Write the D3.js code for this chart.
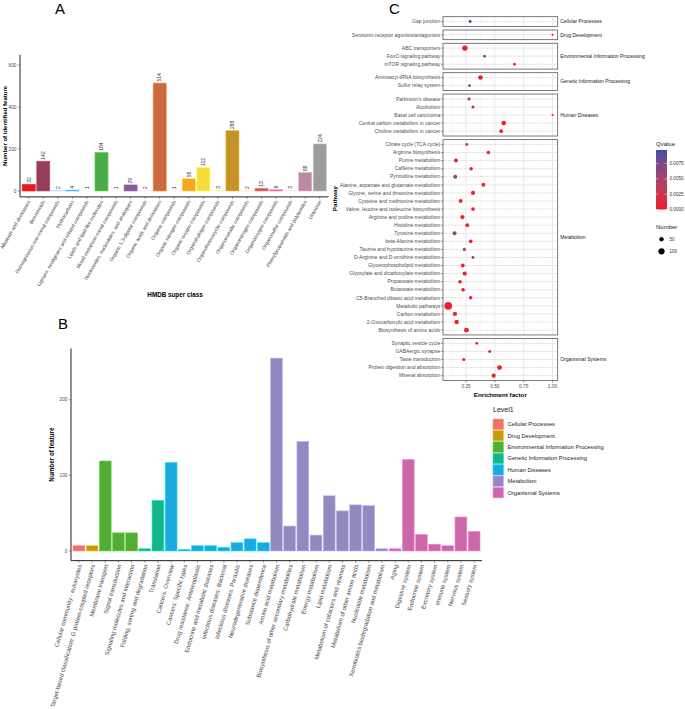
<!DOCTYPE html>
<html>
<head>
<meta charset="utf-8">
<script src="https://cdn.jsdelivr.net/npm/d3@7"></script>
<style>
  body { margin: 0; background: #fff; }
  text { font-family: "Liberation Sans", Arial, sans-serif; }
</style>
</head>
<body>
<svg id="fig" width="685" height="709"></svg>
<script>
// ---------- Panel A data: HMDB super class ----------
var hmdbClasses = ["Alkaloids and derivatives", "Benzenoids", "Homogeneous non-metal compounds",
  "Hydrocarbons", "Lignans, neolignans and related compounds", "Lipids and lipid-like molecules",
  "Mixed metal/non-metal compounds", "Nucleosides, nucleotides, and analogues",
  "Organic 1,3-dipolar compounds", "Organic acids and derivatives", "Organic compounds",
  "Organic nitrogen compounds", "Organic oxygen compounds", "Organohalogen compounds",
  "Organoheterocyclic compounds", "Organometallic compounds", "Organonitrogen compounds",
  "Organooxygen compounds", "Organosulfur compounds", "Phenylpropanoids and polyketides", "Unknown"];
var hmdbCounts = [32, 142, 2, 4, 1, 184, 1, 29, 2, 514, 1, 58, 112, 3, 288, 2, 13, 6, 3, 88, 224];
var hmdbTicks = [0, 200, 400, 600];

// ---------- Panel B data: KEGG level 2 ----------
var level1Names = ["Cellular Processes", "Drug Development", "Environmental Information Processing",
  "Genetic Information Processing", "Human Diseases", "Metabolism", "Organismal Systems"];
var level2Names = ["Cellular community - eukaryotes",
  "Target-based classification: G protein-coupled receptors", "Membrane transport",
  "Signal transduction", "Signaling molecules and interaction", "Folding, sorting and degradation",
  "Translation", "Cancers: Overview", "Cancers: Specific types", "Drug resistance: Antineoplastic",
  "Endocrine and metabolic diseases", "Infectious diseases: Bacterial", "Infectious diseases: Parasitic",
  "Neurodegenerative diseases", "Substance dependence", "Amino acid metabolism",
  "Biosynthesis of other secondary metabolites", "Carbohydrate metabolism", "Energy metabolism",
  "Lipid metabolism", "Metabolism of cofactors and vitamins", "Metabolism of other amino acids",
  "Nucleotide metabolism", "Xenobiotics biodegradation and metabolism", "Aging", "Digestive system",
  "Endocrine system", "Excretory system", "Immune system", "Nervous system", "Sensory system"];
var level2Group = [0, 1, 2, 2, 2, 3, 3, 4, 4, 4, 4, 4, 4, 4, 4, 5, 5, 5, 5, 5, 5, 5, 5, 5, 6, 6, 6, 6, 6, 6, 6];
var level2Counts = [7, 7, 119, 24, 24, 3, 67, 117, 2, 7, 7, 5, 11, 16, 11, 255, 33, 145, 21, 73, 53, 61, 60,
  3, 3, 121, 22, 9, 7, 45, 26];
var level2Ticks = [0, 100, 200];

// ---------- Panel C data: KEGG enrichment ----------
var enrichPathways = ["Gap junction", "Serotonin receptor agonists/antagonists",
  "ABC transporters", "FoxO signaling pathway", "mTOR signaling pathway",
  "Aminoacyl-tRNA biosynthesis", "Sulfur relay system",
  "Parkinson's disease", "Alcoholism", "Basal cell carcinoma", "Central carbon metabolism in cancer",
  "Choline metabolism in cancer",
  "Citrate cycle (TCA cycle)", "Arginine biosynthesis", "Purine metabolism", "Caffeine metabolism",
  "Pyrimidine metabolism", "Alanine, aspartate and glutamate metabolism",
  "Glycine, serine and threonine metabolism", "Cysteine and methionine metabolism",
  "Valine, leucine and isoleucine biosynthesis", "Arginine and proline metabolism", "Histidine metabolism",
  "Tyrosine metabolism", "beta-Alanine metabolism", "Taurine and hypotaurine metabolism",
  "D-Arginine and D-ornithine metabolism", "Glycerophospholipid metabolism",
  "Glyoxylate and dicarboxylate metabolism", "Propanoate metabolism", "Butanoate metabolism",
  "C5-Branched dibasic acid metabolism", "Metabolic pathways", "Carbon metabolism",
  "2-Oxocarboxylic acid metabolism", "Biosynthesis of amino acids",
  "Synaptic vesicle cycle", "GABAergic synapse", "Taste transduction", "Protein digestion and absorption",
  "Mineral absorption"];
var enrichGroup = [0, 1, 2, 2, 2, 3, 3, 4, 4, 4, 4, 4,
  5, 5, 5, 5, 5, 5, 5, 5, 5, 5, 5, 5, 5, 5, 5, 5, 5, 5, 5, 5, 5, 5, 5, 5,
  6, 6, 6, 6, 6];
var enrichFactor = [0.285, 1.0, 0.24, 0.41, 0.67, 0.375, 0.28, 0.276, 0.31, 1.0, 0.577, 0.555,
  0.256, 0.443, 0.162, 0.294, 0.156, 0.40, 0.31, 0.203, 0.31, 0.218, 0.26, 0.15, 0.29, 0.235, 0.31,
  0.221, 0.238, 0.197, 0.224, 0.29, 0.095, 0.153, 0.168, 0.253,
  0.343, 0.455, 0.23, 0.54, 0.49];
var enrichQ = [0.0097, 0.0001, 0.0001, 0.0066, 0.0004, 0.0002, 0.0092, 0.0050, 0.0064, 0.0002, 0.0001,
  0.0003, 0.0040, 0.0003, 0.0016, 0.0004, 0.0066, 0.0003, 0.0004, 0.0005, 0.0004, 0.0005, 0.0006,
  0.0068, 0.0006, 0.0052, 0.0066, 0.0004, 0.0005, 0.0004, 0.0005, 0.0006, 0.0001, 0.0003, 0.0004,
  0.0002, 0.0006, 0.0006, 0.0007, 0.0001, 0.0002];
var enrichNumber = [22, 6, 76, 22, 20, 55, 20, 28, 25, 6, 55, 35,
  22, 32, 42, 32, 40, 40, 45, 40, 35, 45, 38, 40, 35, 25, 22, 38, 45, 33, 35, 32, 150, 48, 50, 62,
  20, 22, 25, 60, 45];
var enrichTicks = [0.25, 0.5, 0.75, 1.0];
var qLegendTicks = [0, 0.0025, 0.005, 0.0075];
var sizeLegendValues = [50, 100];

// ---------- styles ----------
var hmdbPalette = ["#E41A1C", "#973C5A", "#9AA6D8", "#3A8FC2", "#D5EEDC", "#4DAA48", "#D3EEE0", "#7F5A98",
  "#F0B5D0", "#CD6A3E", "#FBE0C8", "#F5A623", "#F4DD3A", "#F0E07A", "#C4932C", "#F4BBA0", "#C45E5A",
  "#E9609C", "#F2B6D4", "#B98AA2", "#9C9C9C"];
var level1Palette = ["#EE7268", "#C49A12", "#53AC35", "#14B48C", "#1AAADC", "#9388C0", "#CB68A9"];
var axisGrey = "#4D4D4D";

var svg = d3.select("#fig");
svg.append("rect").attr("width", 685).attr("height", 709).attr("fill", "#fff");

function panelLetter(x, y, t) {
  svg.append("text").attr("x", x).attr("y", y).attr("font-size", 15).text(t);
}

// =============== Panel A ===============
panelLetter(55, 14, "A");

var xA = d3.scaleBand()
  .domain(hmdbClasses)
  .range([20, 328.5])
  .paddingInner(0.1)
  .paddingOuter(0.15);

var yA = d3.scaleLinear()
  .domain([0, 600])
  .range([191, 65]);

var gA = svg.append("g");

gA.selectAll(".barA")
  .data(hmdbCounts)
  .enter().append("rect")
  .attr("x", function(d, i) { return xA(hmdbClasses[i]); })
  .attr("width", xA.bandwidth())
  .attr("y", function(d) { return yA(d); })
  .attr("height", function(d) { return yA(0) - yA(d); })
  .attr("fill", function(d, i) { return hmdbPalette[i]; })
  .attr("stroke", function(d, i) { return d3.color(hmdbPalette[i]).brighter(0.7); })
  .attr("stroke-width", 0.6);

// value labels above the bars, rotated
gA.selectAll(".valA")
  .data(hmdbCounts)
  .enter().append("text")
  .attr("transform", function(d, i) {
    return "translate(" + (xA(hmdbClasses[i]) + xA.bandwidth() / 2 + 1.8) + "," + (yA(d) - 1.5) + ") rotate(-90)";
  })
  .attr("font-size", 5)
  .attr("fill", "#333")
  .text(function(d) { return d; });

// axes
gA.append("line").attr("x1", 20).attr("x2", 20).attr("y1", yA(648)).attr("y2", yA(-28))
  .attr("stroke", "#222").attr("stroke-width", 1);
gA.append("line").attr("x1", 20).attr("x2", 328.5).attr("y1", yA(-28)).attr("y2", yA(-28))
  .attr("stroke", "#222").attr("stroke-width", 1);

gA.selectAll(".tickA")
  .data(hmdbTicks)
  .enter().append("text")
  .attr("x", 16.5).attr("y", function(d) { return yA(d); })
  .attr("dy", "0.35em").attr("text-anchor", "end")
  .attr("font-size", 4.8).attr("fill", axisGrey)
  .text(function(d) { return d; });
gA.selectAll(".tickmA")
  .data(hmdbTicks)
  .enter().append("line")
  .attr("x1", 18).attr("x2", 20)
  .attr("y1", function(d) { return yA(d); }).attr("y2", function(d) { return yA(d); })
  .attr("stroke", "#333").attr("stroke-width", 0.5);

gA.selectAll(".xtA")
  .data(hmdbClasses)
  .enter().append("line")
  .attr("x1", function(d) { return xA(d) + xA.bandwidth() / 2; })
  .attr("x2", function(d) { return xA(d) + xA.bandwidth() / 2; })
  .attr("y1", yA(-28)).attr("y2", yA(-28) + 2)
  .attr("stroke", "#333").attr("stroke-width", 0.5);

gA.selectAll(".xlA")
  .data(hmdbClasses)
  .enter().append("text")
  .attr("transform", function(d) {
    return "translate(" + (xA(d) + xA.bandwidth() / 2 + 0.6) + "," + (yA(-28) + 4) + ") rotate(-60)";
  })
  .attr("text-anchor", "end").attr("dy", "0.3em")
  .attr("font-size", 5.0).attr("fill", axisGrey)
  .text(function(d) { return d; });

gA.append("text")
  .attr("x", 175).attr("y", 297).attr("text-anchor", "middle")
  .attr("font-size", 6.3).attr("font-weight", "bold")
  .text("HMDB super class");
gA.append("text")
  .attr("transform", "translate(7," + ((yA(648) + yA(-28)) / 2) + ") rotate(-90)")
  .attr("text-anchor", "middle")
  .attr("font-size", 6).attr("font-weight", "bold")
  .text("Number of identified feature");

// =============== Panel B ===============
panelLetter(58, 329, "B");

var xB = d3.scaleBand()
  .domain(level2Names)
  .range([71, 482])
  .paddingInner(0.1)
  .paddingOuter(0.15);

var yB = d3.scaleLinear()
  .domain([0, 200])
  .range([551, 399.7]);

var yBLow = -12.75, yBHigh = 267.75;
var gB = svg.append("g");

gB.selectAll(".barB")
  .data(level2Counts)
  .enter().append("rect")
  .attr("x", function(d, i) { return xB(level2Names[i]); })
  .attr("width", xB.bandwidth())
  .attr("y", function(d) { return yB(d); })
  .attr("height", function(d) { return yB(0) - yB(d); })
  .attr("fill", function(d, i) { return level1Palette[level2Group[i]]; })
  .attr("stroke", function(d, i) { return d3.color(level1Palette[level2Group[i]]).brighter(0.8); })
  .attr("stroke-width", 0.6);

gB.append("line").attr("x1", 71).attr("x2", 71).attr("y1", yB(yBHigh)).attr("y2", yB(yBLow))
  .attr("stroke", "#222").attr("stroke-width", 1);
gB.append("line").attr("x1", 71).attr("x2", 482).attr("y1", yB(yBLow)).attr("y2", yB(yBLow))
  .attr("stroke", "#222").attr("stroke-width", 1);

gB.selectAll(".tickB")
  .data(level2Ticks)
  .enter().append("text")
  .attr("x", 67.5).attr("y", function(d) { return yB(d); })
  .attr("dy", "0.35em").attr("text-anchor", "end")
  .attr("font-size", 4.8).attr("fill", axisGrey)
  .text(function(d) { return d; });
gB.selectAll(".tickmB")
  .data(level2Ticks)
  .enter().append("line")
  .attr("x1", 69).attr("x2", 71)
  .attr("y1", function(d) { return yB(d); }).attr("y2", function(d) { return yB(d); })
  .attr("stroke", "#333").attr("stroke-width", 0.5);

gB.selectAll(".xtB")
  .data(level2Names)
  .enter().append("line")
  .attr("x1", function(d) { return xB(d) + xB.bandwidth() / 2; })
  .attr("x2", function(d) { return xB(d) + xB.bandwidth() / 2; })
  .attr("y1", yB(yBLow)).attr("y2", yB(yBLow) + 2)
  .attr("stroke", "#333").attr("stroke-width", 0.5);

gB.selectAll(".xlB")
  .data(level2Names)
  .enter().append("text")
  .attr("transform", function(d) {
    return "translate(" + (xB(d) + xB.bandwidth() / 2 + 1.3) + "," + (yB(yBLow) + 4) + ") rotate(-74)";
  })
  .attr("text-anchor", "end").attr("dy", "0.3em")
  .attr("font-size", 6.0).attr("fill", axisGrey)
  .text(function(d) { return d; });

gB.append("text")
  .attr("transform", "translate(54," + ((yB(yBHigh) + yB(yBLow)) / 2) + ") rotate(-90)")
  .attr("text-anchor", "middle")
  .attr("font-size", 6.3).attr("font-weight", "bold")
  .text("Number of feature");

// legend
var legB = svg.append("g").attr("transform", "translate(493,412)");
legB.append("text").attr("x", 0).attr("y", 0).attr("font-size", 7).attr("fill", "#222").text("Level1");
var legBItems = legB.selectAll(".legB")
  .data(level1Names)
  .enter().append("g")
  .attr("transform", function(d, i) { return "translate(0," + (7 + i * 11.4) + ")"; });
legBItems.append("rect")
  .attr("width", 10.5).attr("height", 10.5)
  .attr("fill", function(d, i) { return level1Palette[i]; })
  .attr("stroke", function(d, i) { return d3.color(level1Palette[i]).brighter(0.8); })
  .attr("stroke-width", 0.6);
legBItems.append("text")
  .attr("x", 14.5).attr("y", 5.3).attr("dy", "0.35em")
  .attr("font-size", 5.7).attr("fill", "#222")
  .text(function(d) { return d; });

// =============== Panel C ===============
panelLetter(389, 14, "C");

var cLeft = 443, cRight = 557.7, cTop = 16.7, cBottom = 380.5, cGap = 3.6;
var efExtent = d3.extent(enrichFactor);
var efPad = (efExtent[1] - efExtent[0]) * 0.05;
var xC = d3.scaleLinear()
  .domain([efExtent[0] - efPad, efExtent[1] + efPad])
  .range([cLeft, cRight]);

var qColour = d3.scaleLinear()
  .domain([0, d3.max(enrichQ)])
  .range(["#EE1B2C", "#3B4DA6"])
  .interpolate(d3.interpolateLab);

var rSize = d3.scaleSqrt().domain([0, 150]).range([0, 3.8]);

// split pathways into facets
var facets = level1Names.map(function(name, gi) {
  var rows = [];
  enrichPathways.forEach(function(p, i) { if (enrichGroup[i] === gi) rows.push(i); });
  return { name: name, rows: rows };
});
var units = d3.sum(facets, function(f) { return f.rows.length + 0.2; });
var unit = (cBottom - cTop - cGap * (facets.length - 1)) / units;

var gC = svg.append("g");
var yCursor = cTop;
var minorTicks = [0.125, 0.375, 0.625, 0.875];

facets.forEach(function(f) {
  var h = (f.rows.length + 0.2) * unit;
  var top = yCursor, bottom = yCursor + h;
  var yC = d3.scalePoint()
    .domain(f.rows)
    .range([top, bottom])
    .padding(0.6);
  var gf = gC.append("g");

  gf.append("rect").attr("x", cLeft).attr("y", top).attr("width", cRight - cLeft).attr("height", h)
    .attr("fill", "#fff");
  gf.selectAll(".minor").data(minorTicks.filter(function(t) { return t > xC.domain()[0]; }))
    .enter().append("line")
    .attr("x1", function(d) { return xC(d); }).attr("x2", function(d) { return xC(d); })
    .attr("y1", top).attr("y2", bottom)
    .attr("stroke", "#F2F2F2").attr("stroke-width", 0.5);
  gf.selectAll(".major").data(enrichTicks)
    .enter().append("line")
    .attr("x1", function(d) { return xC(d); }).attr("x2", function(d) { return xC(d); })
    .attr("y1", top).attr("y2", bottom)
    .attr("stroke", "#E6E6E6").attr("stroke-width", 0.9);
  gf.selectAll(".hgrid").data(f.rows)
    .enter().append("line")
    .attr("x1", cLeft).attr("x2", cRight)
    .attr("y1", function(d) { return yC(d); }).attr("y2", function(d) { return yC(d); })
    .attr("stroke", "#E6E6E6").attr("stroke-width", 0.9);

  gf.selectAll(".pt").data(f.rows)
    .enter().append("circle")
    .attr("cx", function(d) { return xC(enrichFactor[d]); })
    .attr("cy", function(d) { return yC(d); })
    .attr("r", function(d) { return Math.max(1, rSize(enrichNumber[d])); })
    .attr("fill", function(d) { return qColour(enrichQ[d]); });

  gf.append("rect").attr("x", cLeft).attr("y", top).attr("width", cRight - cLeft).attr("height", h)
    .attr("fill", "none").attr("stroke", "#595959").attr("stroke-width", 0.8);

  gf.selectAll(".ylab").data(f.rows)
    .enter().append("text")
    .attr("x", cLeft - 2.8).attr("y", function(d) { return yC(d); })
    .attr("dy", "0.35em").attr("text-anchor", "end")
    .attr("font-size", 5).attr("fill", axisGrey)
    .text(function(d) { return enrichPathways[d]; });
  gf.selectAll(".ytick").data(f.rows)
    .enter().append("line")
    .attr("x1", cLeft - 2).attr("x2", cLeft)
    .attr("y1", function(d) { return yC(d); }).attr("y2", function(d) { return yC(d); })
    .attr("stroke", "#333").attr("stroke-width", 0.5);

  gf.append("text")
    .attr("x", cRight + 2.5).attr("y", (top + bottom) / 2).attr("dy", "0.35em")
    .attr("font-size", 5).attr("fill", "#1A1A1A")
    .text(f.name);

  yCursor = bottom + cGap;
});

// x axis of panel C
gC.selectAll(".xtC").data(enrichTicks)
  .enter().append("line")
  .attr("x1", function(d) { return xC(d); }).attr("x2", function(d) { return xC(d); })
  .attr("y1", cBottom).attr("y2", cBottom + 2)
  .attr("stroke", "#333").attr("stroke-width", 0.5);
gC.selectAll(".xlC").data(enrichTicks)
  .enter().append("text")
  .attr("x", function(d) { return xC(d); }).attr("y", cBottom + 6)
  .attr("dy", "0.35em").attr("text-anchor", "middle")
  .attr("font-size", 4.8).attr("fill", axisGrey)
  .text(function(d) { return d3.format(".2f")(d); });
gC.append("text")
  .attr("x", (cLeft + cRight) / 2).attr("y", cBottom + 16)
  .attr("text-anchor", "middle")
  .attr("font-size", 6.2).attr("font-weight", "bold")
  .text("Enrichment factor");
gC.append("text")
  .attr("transform", "translate(337," + ((cTop + cBottom) / 2) + ") rotate(-90)")
  .attr("text-anchor", "middle")
  .attr("font-size", 6.2).attr("font-weight", "bold")
  .text("Pathway");

// Qvalue colour bar
var defs = svg.append("defs");
var grad = defs.append("linearGradient").attr("id", "qgrad")
  .attr("x1", 0).attr("y1", 1).attr("x2", 0).attr("y2", 0);
d3.range(0, 1.01, 0.1).forEach(function(t) {
  grad.append("stop").attr("offset", t)
    .attr("stop-color", qColour(t * d3.max(enrichQ)));
});
var qBar = d3.scaleLinear().domain([0, d3.max(enrichQ)]).range([209.5, 150]);
var legC = svg.append("g");
legC.append("text").attr("x", 656).attr("y", 146).attr("font-size", 6).attr("fill", "#222").text("Qvalue");
legC.append("rect").attr("x", 656).attr("y", qBar(d3.max(enrichQ))).attr("width", 11)
  .attr("height", qBar(0) - qBar(d3.max(enrichQ))).attr("fill", "url(#qgrad)");
legC.selectAll(".qt").data(qLegendTicks)
  .enter().append("line")
  .attr("x1", 656).attr("x2", 658.2)
  .attr("y1", function(d) { return qBar(d); }).attr("y2", function(d) { return qBar(d); })
  .attr("stroke", "#fff").attr("stroke-width", 0.5);
legC.selectAll(".qt2").data(qLegendTicks)
  .enter().append("line")
  .attr("x1", 664.8).attr("x2", 667)
  .attr("y1", function(d) { return qBar(d); }).attr("y2", function(d) { return qBar(d); })
  .attr("stroke", "#fff").attr("stroke-width", 0.5);
legC.selectAll(".ql").data(qLegendTicks)
  .enter().append("text")
  .attr("x", 669.5).attr("y", function(d) { return qBar(d); }).attr("dy", "0.35em")
  .attr("font-size", 4.6).attr("fill", "#333")
  .text(function(d) { return d3.format(".4f")(d); });

legC.append("text").attr("x", 656).attr("y", 229).attr("font-size", 6).attr("fill", "#222").text("Number");
legC.selectAll(".sz").data(sizeLegendValues)
  .enter().append("circle")
  .attr("cx", 661.5).attr("cy", function(d, i) { return 239.3 + i * 12; })
  .attr("r", function(d) { return rSize(d); })
  .attr("fill", "#000");
legC.selectAll(".szl").data(sizeLegendValues)
  .enter().append("text")
  .attr("x", 669.5).attr("y", function(d, i) { return 239.3 + i * 12; }).attr("dy", "0.35em")
  .attr("font-size", 4.6).attr("fill", "#333")
  .text(function(d) { return d; });
</script>
</body>
</html>
